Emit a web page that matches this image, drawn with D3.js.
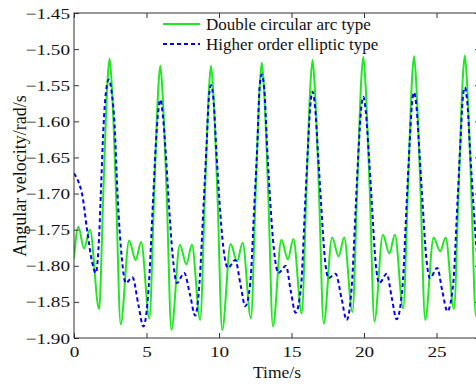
<!DOCTYPE html>
<html><head><meta charset="utf-8">
<script src="https://cdn.jsdelivr.net/npm/d3@7/dist/d3.min.js"></script>
<style>html,body{margin:0;padding:0;background:#fff;}svg{display:block;}</style>
</head><body>
<svg id="chart" width="476" height="387"></svg>
<script>
// Double circular arc type (green, solid)
const greenTime = [0.00,0.30,0.69,1.10,1.73,
 2.02,2.19,2.31,2.45,2.59,2.72,2.90,3.22,3.80,4.25,4.63,5.20,
 5.52,5.69,5.81,5.95,6.09,6.22,6.40,6.72,7.30,7.75,8.13,8.70,
 9.02,9.19,9.31,9.45,9.59,9.72,9.90,10.22,10.80,11.25,11.63,12.20,
 12.52,12.69,12.81,12.95,13.09,13.22,13.40,13.72,14.30,14.75,15.13,15.70,
 16.02,16.19,16.31,16.45,16.59,16.72,16.90,17.22,17.80,18.25,18.63,19.20,
 19.52,19.69,19.81,19.95,20.09,20.22,20.40,20.72,21.30,21.75,22.13,22.70,
 23.02,23.19,23.31,23.45,23.59,23.72,23.90,24.22,24.80,25.25,25.63,26.20,
 26.52,26.69,26.81,26.95,27.09,27.22,27.40,27.72,28.00];
const greenVel = [-1.790,-1.746,-1.776,-1.750,-1.860,
 -1.700,-1.600,-1.545,-1.513,-1.545,-1.600,-1.700,-1.881,-1.765,-1.792,-1.767,-1.873,
 -1.705,-1.610,-1.555,-1.523,-1.555,-1.610,-1.705,-1.889,-1.771,-1.798,-1.771,-1.875,
 -1.705,-1.610,-1.555,-1.523,-1.555,-1.610,-1.705,-1.889,-1.770,-1.794,-1.768,-1.873,
 -1.703,-1.605,-1.551,-1.519,-1.551,-1.605,-1.703,-1.884,-1.764,-1.791,-1.763,-1.866,
 -1.700,-1.602,-1.547,-1.515,-1.547,-1.602,-1.700,-1.880,-1.761,-1.787,-1.761,-1.864,
 -1.698,-1.600,-1.543,-1.511,-1.543,-1.600,-1.698,-1.877,-1.757,-1.783,-1.757,-1.859,
 -1.698,-1.599,-1.542,-1.510,-1.542,-1.599,-1.698,-1.875,-1.761,-1.780,-1.761,-1.860,
 -1.697,-1.598,-1.541,-1.509,-1.541,-1.598,-1.697,-1.870,-1.820];

// Higher order elliptic type (blue, dashed)
const blueTime = [0.00,0.35,0.57,0.90,1.25,1.50,1.75,1.85,2.04,2.20,2.40,2.60,2.80,3.00,3.30,3.57,4.03,4.45,4.78,
 5.15,5.45,5.65,5.80,5.95,6.13,6.33,6.53,6.80,7.09,7.60,8.00,8.36,
 8.65,8.95,9.15,9.30,9.45,9.63,9.83,10.03,10.30,10.62,11.12,11.50,11.81,
 12.15,12.45,12.65,12.80,12.95,13.13,13.33,13.53,13.80,14.10,14.62,14.95,15.28,
 15.65,15.95,16.15,16.30,16.45,16.63,16.83,17.03,17.30,17.56,18.04,18.45,18.80,
 19.15,19.45,19.65,19.80,19.95,20.13,20.33,20.53,20.80,21.05,21.57,21.92,22.25,
 22.65,22.95,23.15,23.30,23.45,23.63,23.83,24.03,24.30,24.55,25.05,25.40,25.75,
 26.15,26.45,26.65,26.80,26.95,27.13,27.33,27.53,27.80,28.00];
const blueVel = [-1.672,-1.686,-1.702,-1.750,-1.795,-1.810,-1.752,-1.700,-1.605,-1.560,-1.542,-1.560,-1.605,-1.700,-1.790,-1.824,-1.816,-1.855,-1.884,
 -1.830,-1.710,-1.630,-1.588,-1.570,-1.592,-1.645,-1.710,-1.785,-1.824,-1.810,-1.840,-1.869,
 -1.825,-1.710,-1.630,-1.568,-1.550,-1.572,-1.645,-1.710,-1.775,-1.803,-1.792,-1.828,-1.856,
 -1.825,-1.710,-1.630,-1.553,-1.535,-1.557,-1.640,-1.710,-1.780,-1.810,-1.800,-1.835,-1.865,
 -1.830,-1.710,-1.630,-1.577,-1.559,-1.581,-1.645,-1.710,-1.790,-1.817,-1.811,-1.845,-1.875,
 -1.830,-1.710,-1.630,-1.584,-1.566,-1.588,-1.645,-1.710,-1.795,-1.824,-1.811,-1.845,-1.874,
 -1.830,-1.710,-1.630,-1.578,-1.560,-1.582,-1.645,-1.710,-1.790,-1.817,-1.803,-1.835,-1.863,
 -1.825,-1.710,-1.630,-1.571,-1.553,-1.575,-1.645,-1.710,-1.785,-1.815];

const xTicks = [0,5,10,15,20,25];
const yTicks = [-1.90,-1.85,-1.80,-1.75,-1.70,-1.65,-1.60,-1.55,-1.50,-1.45];
const seriesNames = ["Double circular arc type","Higher order elliptic type"];
const seriesColors = ["#1ee81e","#0000ff"];

const svg = d3.select("#chart");
const L = 74, R = 480, T = 13, B = 338;
const x = d3.scaleLinear().domain([0,28]).range([L,R]);
const y = d3.scaleLinear().domain([-1.90,-1.45]).range([B,T]);
const font = "'Liberation Serif','Times New Roman',serif";
const SX = 1.28; // horizontal stretch of tick labels, as in the reference

svg.append("rect").attr("width",476).attr("height",387).attr("fill","#fff");
svg.append("defs").append("clipPath").attr("id","clip")
  .append("rect").attr("x",L).attr("y",T).attr("width",R-L).attr("height",B-T);

const line = d3.line().x(d=>x(d[0])).y(d=>y(d[1])).curve(d3.curveMonotoneX);
const gData = greenTime.map((t,i)=>[t,greenVel[i]]);
const bData = blueTime.map((t,i)=>[t,blueVel[i]]);
const plot = svg.append("g").attr("clip-path","url(#clip)");
plot.append("path").datum(gData).attr("d",line).attr("fill","none")
  .attr("stroke",seriesColors[0]).attr("stroke-width",2);
plot.append("path").datum(bData).attr("d",line).attr("fill","none")
  .attr("stroke",seriesColors[1]).attr("stroke-width",2).attr("stroke-dasharray","4,3");

// axes, MATLAB-style box with inward ticks
const axCol = "#333";
const ax = svg.append("g");
function style(g){
  g.select(".domain").remove();
  g.selectAll("line").attr("stroke",axCol);
  g.selectAll("text").attr("font-family",font).attr("font-size","15px").attr("fill","#111");
}
ax.append("g").attr("transform",`translate(0,${B})`)
  .call(d3.axisBottom(x).tickValues(xTicks).tickSize(-5).tickFormat(d3.format("d")))
  .call(style)
  .call(g=>g.selectAll("text").attr("y",19).attr("dy",0).attr("transform",`scale(${SX},1)`));
ax.append("g").attr("transform",`translate(0,${T})`)
  .call(d3.axisTop(x).tickValues(xTicks).tickSize(-5).tickFormat(""))
  .call(style);
ax.append("g").attr("transform",`translate(${L},0)`)
  .call(d3.axisLeft(y).tickValues(yTicks).tickSize(-5).tickFormat(d3.format(".2f")))
  .call(style)
  .call(g=>g.selectAll("text").attr("x",-4/SX).attr("dy","0.34em").attr("transform",`scale(${SX},1)`));
ax.append("g").attr("transform",`translate(${R},0)`)
  .call(d3.axisRight(y).tickValues(yTicks).tickSize(-5).tickFormat(""))
  .call(style);
svg.append("rect").attr("x",L).attr("y",T).attr("width",R-L).attr("height",B-T)
  .attr("fill","none").attr("stroke",axCol).attr("stroke-width",1);

// axis titles
svg.append("text").attr("x",277).attr("y",378).attr("text-anchor","middle")
  .attr("font-family",font).attr("font-size","17.5px").attr("fill","#111").text("Time/s");
svg.append("text").attr("transform","translate(26,176) rotate(-90)").attr("text-anchor","middle")
  .attr("font-family",font).attr("font-size","18px").attr("fill","#111").text("Angular velocity/rad/s");

// legend
const leg = svg.append("g");
seriesNames.forEach((n,i)=>{
  const yy = 24 + i*20;
  leg.append("line").attr("x1",163).attr("x2",200).attr("y1",yy).attr("y2",yy)
    .attr("stroke",seriesColors[i]).attr("stroke-width",2)
    .attr("stroke-dasharray", i===1 ? "4,3" : null);
  leg.append("text").attr("x",206).attr("y",yy+6).attr("font-family",font)
    .attr("font-size","17px").attr("fill","#111").text(n);
});
</script>
</body></html>
